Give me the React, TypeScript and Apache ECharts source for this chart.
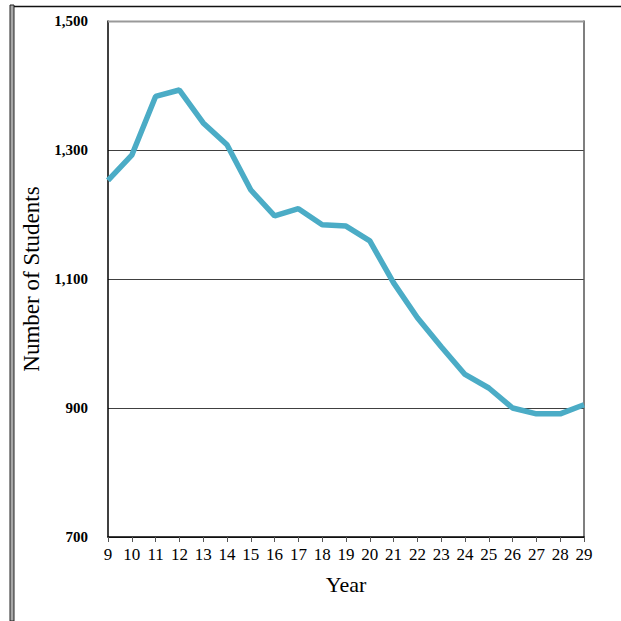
import React, { useEffect, useRef } from "react";
import * as echarts from "echarts";

const years: string[] = ["9", "10", "11", "12", "13", "14", "15", "16", "17", "18", "19", "20", "21", "22", "23", "24", "25", "26", "27", "28", "29"];
const students: number[] = [1253, 1292, 1383, 1393, 1342, 1308, 1238, 1198, 1209, 1184, 1182, 1159, 1094, 1040, 995, 952, 931, 900, 891, 891, 905];
const yMin = 700;
const yMax = 1500;
const yStep = 200;

const FONT = "'Liberation Serif', 'DejaVu Serif', serif";

export default function App() {
  const ref = useRef<HTMLDivElement>(null);
  useEffect(() => {
    if (!ref.current) return;
    const chart = echarts.init(ref.current, undefined, { renderer: "svg" });
    chart.setOption({
      animation: false,
      backgroundColor: "#ffffff",
      textStyle: { fontFamily: FONT },
      grid: { left: 108, right: 37, top: 21, bottom: 84, containLabel: false },
      xAxis: {
        type: "category",
        data: years,
        boundaryGap: false,
        name: "Year",
        nameLocation: "middle",
        nameGap: 36,
        nameTextStyle: { fontFamily: FONT, fontSize: 22, color: "#000" },
        axisLine: { show: true, lineStyle: { color: "#000", width: 1.5 } },
        axisTick: { show: true, alignWithLabel: true, length: 5, lineStyle: { color: "#555" } },
        axisLabel: { fontFamily: FONT, fontSize: 17, color: "#000", margin: 9, interval: 0 },
        splitLine: { show: false },
      },
      yAxis: [
        {
          type: "value",
          min: yMin,
          max: yMax,
          interval: yStep,
          name: "Number of Students",
          nameLocation: "middle",
          nameGap: 63,
          nameTextStyle: { fontFamily: FONT, fontSize: 23, color: "#000" },
          axisLine: { show: true, lineStyle: { color: "#000", width: 1.5 } },
          axisTick: { show: false },
          axisLabel: {
            fontFamily: FONT,
            fontSize: 15,
            fontWeight: "bold",
            color: "#000",
            margin: 20,
            formatter: (v: number) => v.toLocaleString("en-US"),
          },
          splitLine: { show: true, lineStyle: { color: "#404040", width: 1 } },
        },
        {
          type: "value",
          min: yMin,
          max: yMax,
          interval: yStep,
          position: "right",
          axisLine: { show: true, lineStyle: { color: "#555", width: 1.5 } },
          axisTick: { show: false },
          axisLabel: { show: false },
          splitLine: { show: false },
        },
      ],
      series: [
        {
          type: "line",
          data: students,
          yAxisIndex: 0,
          showSymbol: false,
          symbol: "none",
          lineStyle: { color: "#4bacc6", width: 5.5 },
          z: 5,
        },
      ],
      graphic: [
        {
          type: "line",
          shape: { x1: 108, y1: 21.5, x2: 584, y2: 21.5 },
          style: { stroke: "#999", lineWidth: 2 },
          z: 1,
        },
        {
          type: "rect",
          shape: { x: 10, y: 5, width: 4, height: 616 },
          style: { fill: "#a8a8a8", stroke: "#222", lineWidth: 1 },
        },
        {
          type: "line",
          shape: { x1: 14, y1: 6.5, x2: 621, y2: 6.5 },
          style: { stroke: "#111", lineWidth: 1.5 },
        },
      ],
    });
    return () => chart.dispose();
  }, []);
  return <div ref={ref} style={{ width: 621, height: 621, position: "absolute", left: 0, top: 0 }} />;
}
